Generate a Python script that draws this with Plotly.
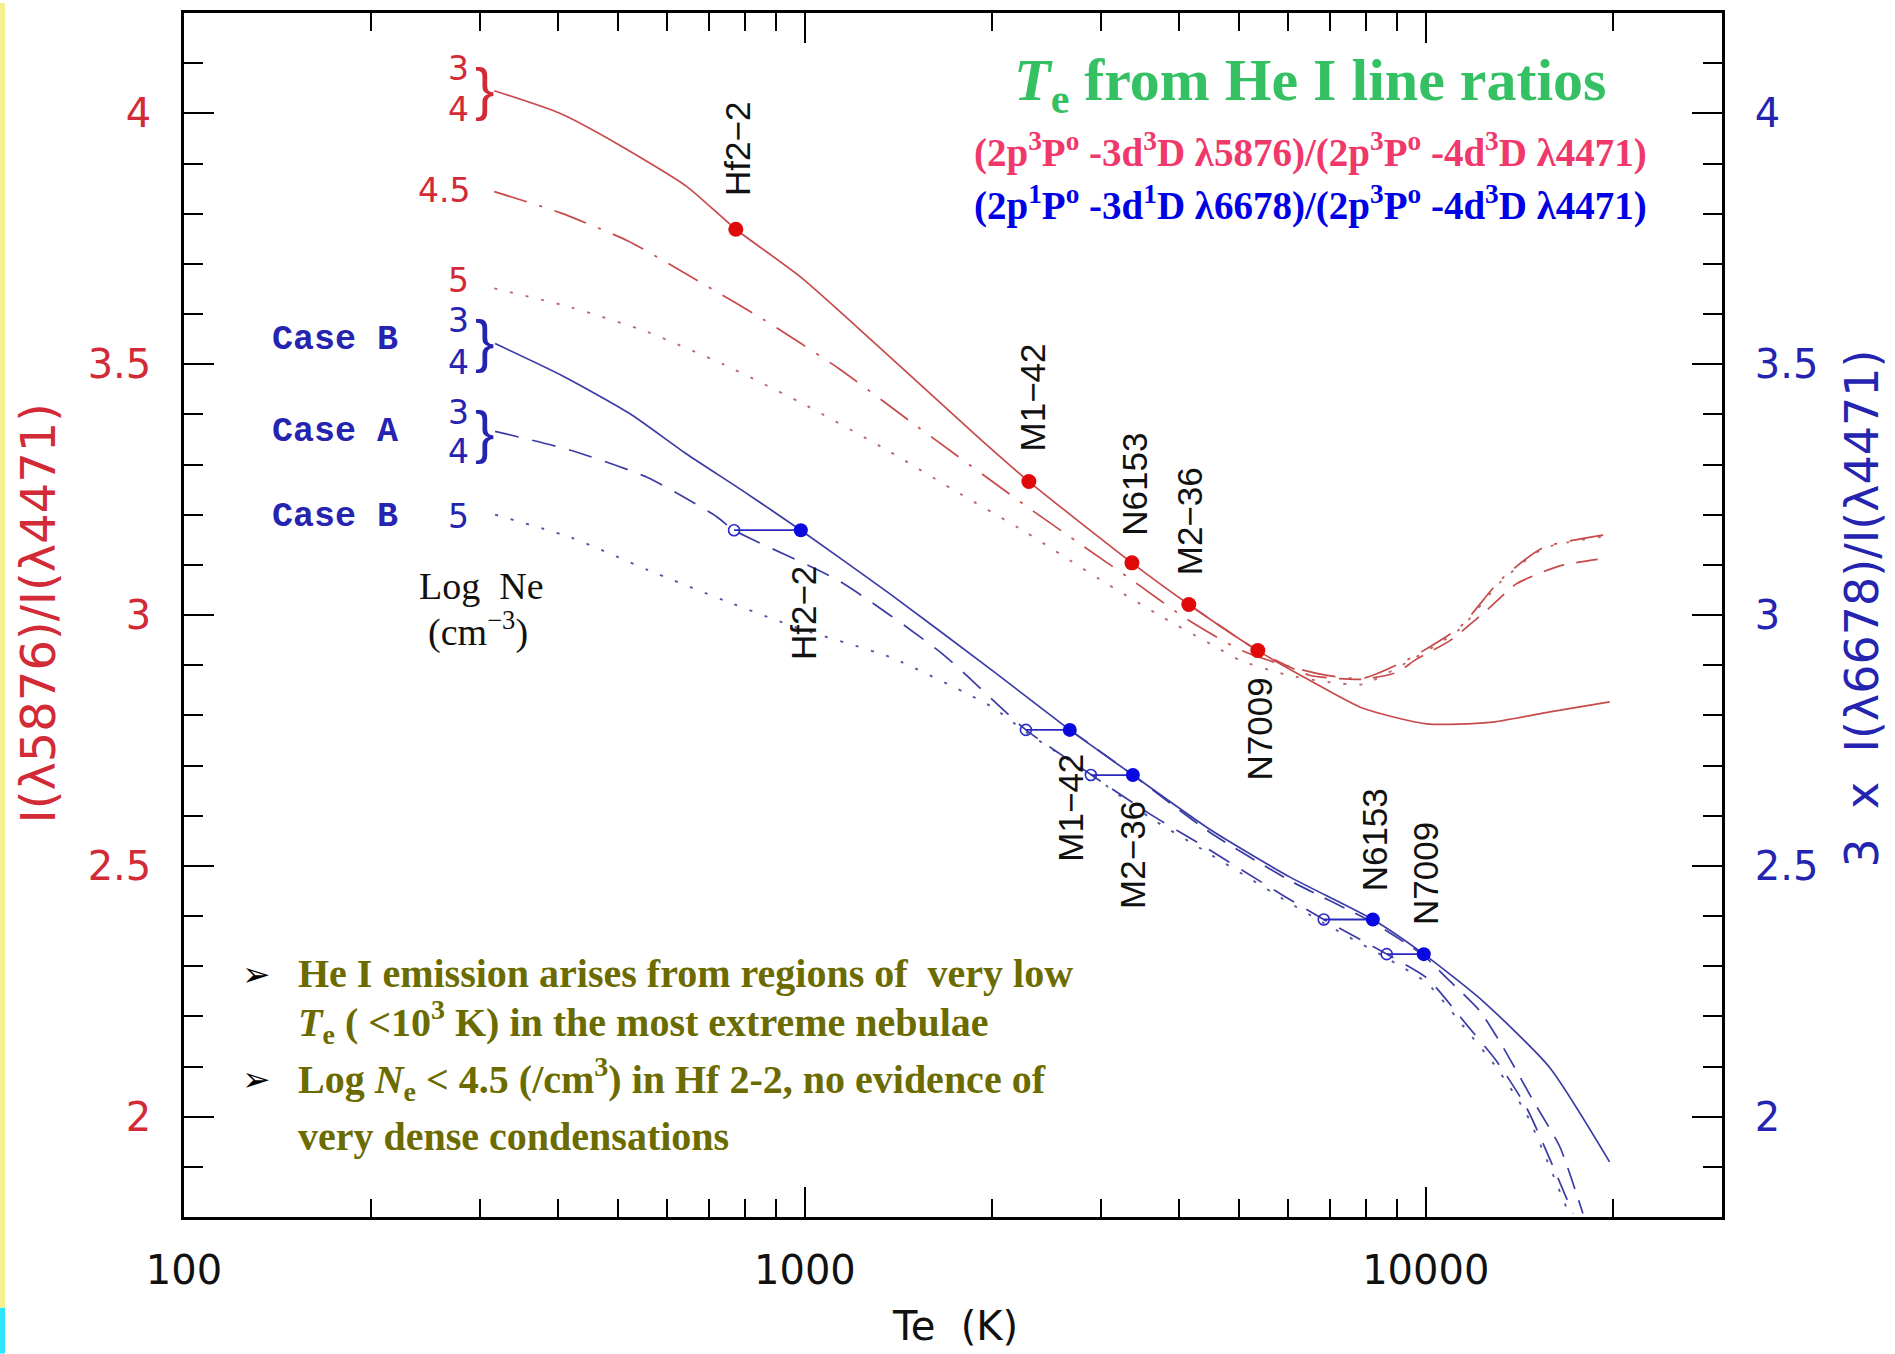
import math
import plotly.graph_objects as go

# ---------------- data ----------------
# Red: I(5876)/I(4471), Case B, curves by log Ne
red_ne3_te = [316, 403, 499, 644, 774, 986, 1309, 1914, 2295, 3363, 4153, 5364, 6500, 7925, 10030, 12680, 15850, 19780]
red_ne3_r = [4.045, 4.000, 3.939, 3.855, 3.769, 3.673, 3.537, 3.351, 3.266, 3.104, 3.021, 2.929, 2.870, 2.814, 2.783, 2.786, 2.807, 2.827]

red_ne4_te = [4153, 5364, 6500, 7925, 9000, 9660, 10940, 12500, 13990, 16440, 19760]
red_ne4_r = [3.021, 2.929, 2.880, 2.872, 2.886, 2.912, 2.949, 3.008, 3.062, 3.098, 3.114]

red_ne45_te = [316, 403, 520, 690, 855, 1135, 1493, 2249, 2736, 3360, 4120, 5013, 5800, 6900, 7925, 9310, 11350, 13150, 15440, 19760]
red_ne45_r = [3.844, 3.802, 3.745, 3.658, 3.590, 3.491, 3.382, 3.221, 3.147, 3.070, 2.992, 2.931, 2.903, 2.880, 2.874, 2.910, 2.976, 3.068, 3.134, 3.161]

red_ne5_te = [316, 421, 558, 741, 986, 1355, 1737, 2276, 2985, 3776, 4550, 5013, 6000, 7000, 7925, 9310, 11350, 13150, 15440, 19760]
red_ne5_r = [3.651, 3.613, 3.564, 3.499, 3.423, 3.329, 3.249, 3.164, 3.071, 2.995, 2.939, 2.910, 2.880, 2.866, 2.862, 2.905, 2.972, 3.064, 3.132, 3.158]

# Blue: 3 x I(6678)/I(4471)
blue_b3_te = [317, 408, 520, 643, 800, 985, 1371, 2000, 2671, 3375, 4487, 6035, 8218, 9927, 12370, 15830, 19770]
blue_b3_r = [3.541, 3.476, 3.403, 3.322, 3.245, 3.169, 3.042, 2.890, 2.771, 2.681, 2.573, 2.478, 2.393, 2.324, 2.230, 2.098, 1.910]

blue_b4_te = [2671, 3375, 4487, 6035, 8218, 9927, 10670, 12230, 13340, 14890, 16440, 17910]
blue_b4_r = [2.771, 2.681, 2.567, 2.471, 2.387, 2.321, 2.283, 2.210, 2.137, 2.032, 1.940, 1.807]

blue_a_te = [317, 421, 558, 721, 769, 1135, 1656, 2270, 2888, 3597, 4375, 5890, 6850, 8652, 10050, 11640, 13000, 14530, 17260]
blue_a_r = [3.366, 3.328, 3.274, 3.196, 3.169, 3.068, 2.925, 2.771, 2.682, 2.603, 2.540, 2.441, 2.393, 2.324, 2.276, 2.183, 2.111, 2.018, 1.807]

blue_b5_te = [317, 421, 558, 741, 985, 1371, 2000, 2245, 2918, 3597, 4375, 5890, 6850, 8652, 10050, 11640, 13000, 14530, 17000]
blue_b5_r = [3.200, 3.154, 3.090, 3.029, 2.972, 2.916, 2.817, 2.771, 2.678, 2.596, 2.532, 2.434, 2.386, 2.316, 2.266, 2.172, 2.098, 2.005, 1.807]

# Nebulae
objects = ["Hf2−2", "M1−42", "N6153", "M2−36", "N7009"]
red_obj_te = [774, 2295, 3363, 4153, 5364]
red_obj_r = [3.769, 3.266, 3.104, 3.021, 2.929]
blue_objB_te = [985, 2671, 8218, 3375, 9927]
blue_objA_te = [769, 2270, 6850, 2888, 8652]
blue_obj_r = [3.169, 2.771, 2.393, 2.681, 2.324]

# Axes
x_tick_vals = [100, 1000, 10000]
x_tick_text = ["100", "1000", "10000"]
x_minor_vals = [200, 300, 400, 500, 600, 700, 800, 900,
                2000, 3000, 4000, 5000, 6000, 7000, 8000, 9000, 20000]
y_tick_vals = [2, 2.5, 3, 3.5, 4]
y_tick_text = ["2", "2.5", "3", "3.5", "4"]

# ---------------- figure ----------------
W, H = 1895, 1354
L, R, T, B = 184, 1722, 10, 1217

def P(xp, yp):
    return (xp - L) / (R - L), (B - yp) / (B - T)

RED_LINE = "#c84a4a"
RED_DOT = "#e00a0a"
BLUE_LINE = "#3b3ba6"
BLUE_DOT = "#0a0ae0"

fig = go.Figure()

def curve(te, r, color, dash, axis="y", width=1.7):
    fig.add_trace(go.Scatter(x=te, y=r, mode="lines", yaxis=axis,
                             line=dict(color=color, width=width, dash=dash, shape="spline", smoothing=0.6),
                             hoverinfo="skip", showlegend=False))

curve(red_ne5_te, red_ne5_r, "#b86a6a", "3px,13px", width=1.9)
curve(red_ne45_te, red_ne45_r, RED_LINE, "34px,13px,3px,13px")
curve(red_ne4_te, red_ne4_r, RED_LINE, "22px,12px")
curve(red_ne3_te, red_ne3_r, RED_LINE, "solid")

curve(blue_b5_te, blue_b5_r, "#55559f", "3px,13px", "y2", width=1.9)
curve(blue_a_te, blue_a_r, BLUE_LINE, "24px,14px", "y2")
curve(blue_b4_te, blue_b4_r, BLUE_LINE, "22px,12px", "y2")
curve(blue_b3_te, blue_b3_r, BLUE_LINE, "solid", "y2")

# connectors between Case A (open) and Case B (filled)
cx, cy = [], []
for a, b_, r in zip(blue_objA_te, blue_objB_te, blue_obj_r):
    cx += [a, b_, None]
    cy += [r, r, None]
fig.add_trace(go.Scatter(x=cx, y=cy, mode="lines", yaxis="y2",
                         line=dict(color="#2a2ac0", width=1.8),
                         hoverinfo="skip", showlegend=False))
fig.add_trace(go.Scatter(x=blue_objA_te, y=blue_obj_r, mode="markers", yaxis="y2",
                         marker=dict(symbol="circle-open", size=11, color="#2a2ac8",
                                     line=dict(width=1.6, color="#2a2ac8")),
                         hoverinfo="skip", showlegend=False))
fig.add_trace(go.Scatter(x=blue_objB_te, y=blue_obj_r, mode="markers", yaxis="y2",
                         marker=dict(symbol="circle", size=14, color=BLUE_DOT),
                         hoverinfo="skip", showlegend=False))
fig.add_trace(go.Scatter(x=red_obj_te, y=red_obj_r, mode="markers", yaxis="y",
                         marker=dict(symbol="circle", size=15, color=RED_DOT),
                         hoverinfo="skip", showlegend=False))

ann = []
LABFONT = dict(family="Liberation Sans", size=35, color="#111111")
red_shift = [80, 84, 79, 83, -78]
red_xs = [1, 4, 3, 1, 2]
for name, te, r, s, dx in zip(objects, red_obj_te, red_obj_r, red_shift, red_xs):
    ann.append(dict(x=math.log10(te), y=r, xref="x", yref="y", text=name, showarrow=False,
                    textangle=-90, font=LABFONT, yshift=s, xshift=dx,
                    xanchor="center", yanchor="middle"))
blue_shift = [-83, -78, 80, -80, 81]
blue_xs = [2, 1, 2, -1, 1]
for name, te, r, s, dx in zip(objects, blue_objB_te, blue_obj_r, blue_shift, blue_xs):
    ann.append(dict(x=math.log10(te), y=r, xref="x", yref="y2", text=name, showarrow=False,
                    textangle=-90, font=LABFONT, yshift=s, xshift=dx,
                    xanchor="center", yanchor="middle"))

def text_px(xp, yp, text, font, xanchor="center", angle=0):
    x, y = P(xp, yp)
    ann.append(dict(x=x, y=y, xref="paper", yref="paper", text=text, showarrow=False,
                    font=font, xanchor=xanchor, yanchor="middle", textangle=angle))

RED_TXT = "#d22a36"
BLUE_TXT = "#2424b0"
dig_red = dict(family="DejaVu Sans", size=33, color=RED_TXT)
dig_blue = dict(family="DejaVu Sans", size=33, color=BLUE_TXT)
brace_red = dict(family="Liberation Sans", size=58, color=RED_TXT)
brace_blue = dict(family="Liberation Sans", size=58, color=BLUE_TXT)
mono_blue = dict(family="Liberation Mono", size=35, color=BLUE_TXT)

text_px(458, 66, "3", dig_red)
text_px(458, 107, "4", dig_red)
text_px(484, 86, "}", brace_red)
text_px(444, 188, "4.5", dig_red)
text_px(458, 278, "5", dig_red)

text_px(458, 318, "3", dig_blue)
text_px(458, 360, "4", dig_blue)
text_px(484, 338, "}", brace_blue)
text_px(458, 410, "3", dig_blue)
text_px(458, 450, "4", dig_blue)
text_px(484, 430, "}", brace_blue)
text_px(458, 515, "5", dig_blue)

text_px(335, 338, "<b>Case B</b>", mono_blue)
text_px(335, 430, "<b>Case A</b>", mono_blue)
text_px(335, 515, "<b>Case B</b>", mono_blue)

serif = dict(family="Liberation Serif", size=38, color="#111111")
text_px(481, 584, "Log\u00a0\u00a0Ne", serif)
text_px(478, 628, "(cm<sup>−3</sup>)", serif)

# Title block
text_px(1310, 82, "<b><i>T</i><sub>e</sub> from He I line ratios</b>",
        dict(family="Liberation Serif", size=60, color="#35c163"))
text_px(1310, 148, "<b>(2p<sup>3</sup>P<sup>o</sup> -3d<sup>3</sup>D λ5876)/(2p<sup>3</sup>P<sup>o</sup> -4d<sup>3</sup>D λ4471)</b>",
        dict(family="Liberation Serif", size=39, color="#f0386a"))
text_px(1310, 201, "<b>(2p<sup>1</sup>P<sup>o</sup> -3d<sup>1</sup>D λ6678)/(2p<sup>3</sup>P<sup>o</sup> -4d<sup>3</sup>D λ4471)</b>",
        dict(family="Liberation Serif", size=39, color="#0000e6"))

# Bullet notes
olive = dict(family="Liberation Serif", size=40, color="#6b6b00")
bul = dict(family="DejaVu Sans", size=34, color="#000000")
text_px(256, 973, "➢", bul)
text_px(256, 1079, "➢", bul)
text_px(296, 973, "<b>He I emission arises from regions of\u00a0 very low</b>", olive, "left")
text_px(296, 1022, "<b><i>T</i><sub>e</sub> ( &lt;10<sup>3</sup> K) in the most extreme nebulae</b>", olive, "left")
text_px(296, 1079, "<b>Log <i>N</i><sub>e</sub> &lt; 4.5 (/cm<sup>3</sup>) in Hf 2-2, no evidence of</b>", olive, "left")
text_px(296, 1136, "<b>very dense condensations</b>", olive, "left")

# Axis titles
text_px(38, 612, "I(λ5876)/I(λ4471)", dict(family="DejaVu Sans", size=48, color=RED_TXT), angle=-90)
text_px(1862, 607, "3\u00a0\u00a0x\u00a0\u00a0I(λ6678)/I(λ4471)", dict(family="DejaVu Sans", size=46, color=BLUE_TXT), angle=-90)
text_px(955, 1326, "Te\u00a0\u00a0(K)", dict(family="DejaVu Sans", size=40, color="#111111"))

# slide edge strips
x0, _ = P(0, 0)
x1, _ = P(5, 0)
_, ytop = P(0, 0)
_, ymid = P(0, 1308)
_, ybot = P(0, 1354)
shapes = [
    dict(type="rect", xref="paper", yref="paper", x0=x0, x1=x1, y0=ymid, y1=ytop,
         fillcolor="#f6f08c", line=dict(width=0), layer="below"),
    dict(type="rect", xref="paper", yref="paper", x0=x0, x1=x1, y0=ybot, y1=ymid,
         fillcolor="#2ee6ff", line=dict(width=0), layer="below"),
]

yr = [1.8, 4.2]
fig.update_layout(
    width=W, height=H, autosize=False,
    margin=dict(l=L, r=W - R, t=T, b=H - B, pad=0),
    paper_bgcolor="white", plot_bgcolor="white",
    showlegend=False,
    annotations=ann, shapes=shapes,
    xaxis=dict(type="log", range=[2, math.log10(30000)],
               showline=True, linecolor="black", linewidth=2.5, mirror="ticks",
               ticks="inside", ticklen=30, tickwidth=2, tickcolor="black",
               tickmode="array", tickvals=x_tick_vals, ticktext=x_tick_text,
               tickfont=dict(family="DejaVu Sans", size=40, color="#111111"),
               ticklabelstandoff=16,
               minor=dict(tickmode="array", tickvals=x_minor_vals, ticks="inside",
                          ticklen=18, tickwidth=2, tickcolor="black"),
               showgrid=False, zeroline=False),
    yaxis=dict(range=yr, showline=True, linecolor="black", linewidth=2.5, mirror=True,
               ticks="inside", ticklen=30, tickwidth=2, tickcolor="black",
               tickmode="array", tickvals=y_tick_vals, ticktext=y_tick_text,
               tickfont=dict(family="DejaVu Sans", size=40, color=RED_TXT),
               ticklabelstandoff=22,
               minor=dict(dtick=0.1, tick0=0, ticks="inside", ticklen=19, tickwidth=2,
                          tickcolor="black"),
               showgrid=False, zeroline=False),
    yaxis2=dict(range=yr, overlaying="y", side="right", showline=True, linecolor="black",
                linewidth=2.5, ticks="inside", ticklen=30, tickwidth=2, tickcolor="black",
                tickmode="array", tickvals=y_tick_vals, ticktext=y_tick_text,
                tickfont=dict(family="DejaVu Sans", size=40, color=BLUE_TXT),
                ticklabelstandoff=22,
                minor=dict(dtick=0.1, tick0=0, ticks="inside", ticklen=19, tickwidth=2,
                           tickcolor="black"),
                showgrid=False, zeroline=False),
)

fig.write_html("out.html")
